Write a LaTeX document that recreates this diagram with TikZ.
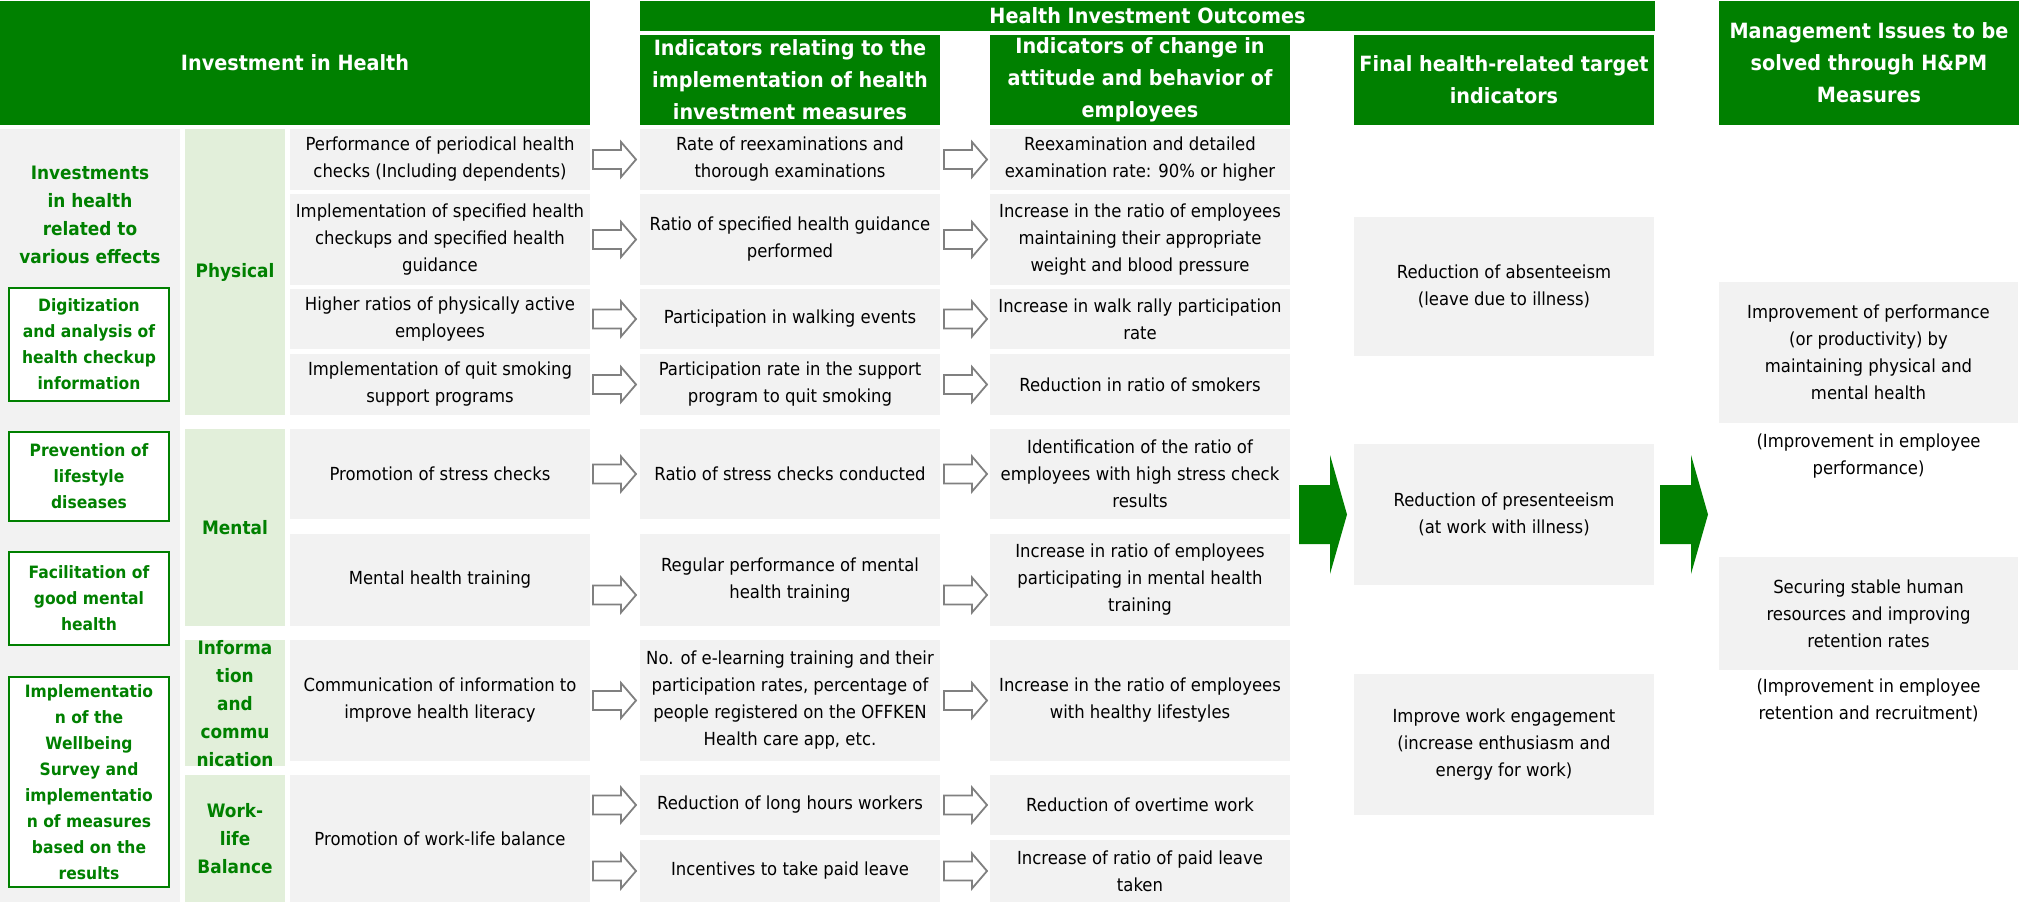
\documentclass[tikz,border=0pt]{standalone}
\usepackage{fontspec}
\setmainfont{DejaVu Sans}[FakeStretch=0.915]
\usetikzlibrary{calc}
\definecolor{hgreen}{RGB}{0,128,0}
\definecolor{lgreen}{RGB}{226,239,218}
\definecolor{bgray}{RGB}{242,242,242}
\definecolor{agray}{RGB}{128,128,128}
\newcommand\fHead{\bfseries\fontsize{21}{32}\selectfont}
\newcommand\fBody{\fontsize{18}{27}\selectfont}
\newcommand\fSub{\bfseries\fontsize{18.5}{28}\selectfont}
\newcommand\fBox{\bfseries\fontsize{17}{26}\selectfont}
\tikzset{
  base/.style={inner sep=0, outer sep=0, anchor=north west, align=center},
  hdr/.style={base, fill=hgreen, text=white, font=\fHead},
  cellg/.style={base, fill=bgray, text=black, font=\fBody},
  subc/.style={base, fill=lgreen, text=hgreen, font=\fSub},
  gbox/.style={base, draw=hgreen, line width=2.5, fill=white, text=hgreen, font=\fBox},
  plain/.style={inner sep=0, outer sep=0, align=center, font=\fBody},
  harrow/.pic={\draw[agray, line width=1.8, fill=white, line join=miter]
     (0,-9.5) -- (28,-9.5) -- (28,-17.5) -- (43,0) -- (28,17.5) -- (28,9.5) -- (0,9.5) -- cycle;},
  garrow/.pic={\fill[hgreen]
     (0,-29.5) -- (31,-29.5) -- (31,-59.5) -- (48,0) -- (31,59.5) -- (31,29.5) -- (0,29.5) -- cycle;}
}
\begin{document}
\begin{tikzpicture}[x=1pt,y=-1pt]
\useasboundingbox[fill=white] (0,0) rectangle (2020,902);

% headers
\node[hdr, minimum width=590, minimum height=124] (h1) at (0,1) {Investment in Health};
\node[hdr, minimum width=1015, minimum height=30] (h2) at (640,1) {Health Investment Outcomes};
\node[hdr, minimum width=300, minimum height=90] (h3) at (640,35) {Indicators relating to the\\implementation of health\\investment measures};
\node[hdr, minimum width=300, minimum height=90] (h4) at (990,35) {Indicators of change in\\attitude and behavior of\\employees};
\node[hdr, minimum width=300, minimum height=90] (h5) at (1354,35) {Final health-related target\\indicators};
\node[hdr, minimum width=300, minimum height=124] (h6) at (1719,1) {Management Issues to be\\solved through H\&PM\\Measures};

% left column
\node[base, fill=bgray, minimum width=180, minimum height=773] (lc) at (0,129) {};
\node[plain, font=\fSub, text=hgreen] (lct) at (90,215) {Investments\\in health\\related to\\various effects};
\node[gbox, minimum width=160, minimum height=113] (d1) at (9,288) {Digitization\\and analysis of\\health checkup\\information};
\node[gbox, minimum width=160, minimum height=89] (d2) at (9,432) {Prevention of\\lifestyle\\diseases};
\node[gbox, minimum width=160, minimum height=93] (d3) at (9,552) {Facilitation of\\good mental\\health};
\node[gbox, minimum width=160, minimum height=210] (d4) at (9,677) {Implementatio\\n of the\\Wellbeing\\Survey and\\implementatio\\n of measures\\based on the\\results};

% sub categories
\node[subc, minimum width=100, minimum height=286] (s1) at (185,129) {Physical};
\node[subc, minimum width=100, minimum height=197] (s2) at (185,429) {Mental};
\node[subc, minimum width=100, minimum height=121] (s3) at (185,640) {Informa\\tion\\and\\commu\\nication};
\node[subc, minimum width=100, minimum height=127] (s4) at (185,775) {Work-\\life\\Balance};

% actions
\node[cellg, minimum width=300, minimum height=61] (a1) at (290,129) {Performance of periodical health\\checks (Including dependents)};
\node[cellg, minimum width=300, minimum height=91] (a2) at (290,194) {Implementation of specified health\\checkups and specified health\\guidance};
\node[cellg, minimum width=300, minimum height=60] (a3) at (290,289) {Higher ratios of physically active\\employees};
\node[cellg, minimum width=300, minimum height=61] (a4) at (290,354) {Implementation of quit smoking\\support programs};
\node[cellg, minimum width=300, minimum height=90] (a5) at (290,429) {Promotion of stress checks};
\node[cellg, minimum width=300, minimum height=92] (a6) at (290,534) {Mental health training};
\node[cellg, minimum width=300, minimum height=121] (a7) at (290,640) {Communication of information to\\improve health literacy};
\node[cellg, minimum width=300, minimum height=127] (a8) at (290,775) {Promotion of work-life balance};

% implementation indicators
\node[cellg, minimum width=300, minimum height=61] (b1) at (640,129) {Rate of reexaminations and\\thorough examinations};
\node[cellg, minimum width=300, minimum height=91] (b2) at (640,194) {Ratio of specified health guidance\\performed};
\node[cellg, minimum width=300, minimum height=60] (b3) at (640,289) {Participation in walking events};
\node[cellg, minimum width=300, minimum height=61] (b4) at (640,354) {Participation rate in the support\\program to quit smoking};
\node[cellg, minimum width=300, minimum height=90] (b5) at (640,429) {Ratio of stress checks conducted};
\node[cellg, minimum width=300, minimum height=92] (b6) at (640,534) {Regular performance of mental\\health training};
\node[cellg, minimum width=300, minimum height=121] (b7) at (640,640) {No. of e-learning training and their\\participation rates, percentage of\\people registered on the OFFKEN\\Health care app, etc.};
\node[cellg, minimum width=300, minimum height=60] (b8a) at (640,775) {Reduction of long hours workers};
\node[cellg, minimum width=300, minimum height=62] (b8b) at (640,840) {Incentives to take paid leave};

% change indicators
\node[cellg, minimum width=300, minimum height=61] (c1) at (990,129) {Reexamination and detailed\\examination rate: 90\% or higher};
\node[cellg, minimum width=300, minimum height=91] (c2) at (990,194) {Increase in the ratio of employees\\maintaining their appropriate\\weight and blood pressure};
\node[cellg, minimum width=300, minimum height=60] (c3) at (990,289) {Increase in walk rally participation\\rate};
\node[cellg, minimum width=300, minimum height=61] (c4) at (990,354) {Reduction in ratio of smokers};
\node[cellg, minimum width=300, minimum height=90] (c5) at (990,429) {Identification of the ratio of\\employees with high stress check\\results};
\node[cellg, minimum width=300, minimum height=92] (c6) at (990,534) {Increase in ratio of employees\\participating in mental health\\training};
\node[cellg, minimum width=300, minimum height=121] (c7) at (990,640) {Increase in the ratio of employees\\with healthy lifestyles};
\node[cellg, minimum width=300, minimum height=60] (c8a) at (990,775) {Reduction of overtime work};
\node[cellg, minimum width=300, minimum height=62] (c8b) at (990,840) {Increase of ratio of paid leave\\taken};

% final indicators
\node[cellg, minimum width=300, minimum height=139] (f1) at (1354,217) {Reduction of absenteeism\\(leave due to illness)};
\node[cellg, minimum width=300, minimum height=141] (f2) at (1354,444) {Reduction of presenteeism\\(at work with illness)};
\node[cellg, minimum width=300, minimum height=141] (f3) at (1354,674) {Improve work engagement\\(increase enthusiasm and\\energy for work)};

% management issues
\node[cellg, minimum width=299, minimum height=141] (m1) at (1719,282) {Improvement of performance\\(or productivity) by\\maintaining physical and\\mental health};
\node[cellg, minimum width=299, minimum height=113] (m2) at (1719,557) {Securing stable human\\resources and improving\\retention rates};
\node[plain] (m1n) at ($(m1.south)+(0,33)$) {(Improvement in employee\\performance)};
\node[plain] (m2n) at ($(m2.south)+(0,30)$) {(Improvement in employee\\retention and recruitment)};

% hollow arrows
\foreach \r in {1,2,3,4,5,7,8a,8b}{
  \pic at ($(b\r.west)+(-47,0)$) {harrow};
  \pic at ($(c\r.west)+(-46,0)$) {harrow};
}
\pic at ($(b6.west)+(-47,15)$) {harrow};
\pic at ($(c6.west)+(-46,15)$) {harrow};

% big green arrows
\pic at ($(f2.west)+(-55,0)$) {garrow};
\pic at ($(f2.east)+(6,0)$) {garrow};
\end{tikzpicture}
\end{document}
